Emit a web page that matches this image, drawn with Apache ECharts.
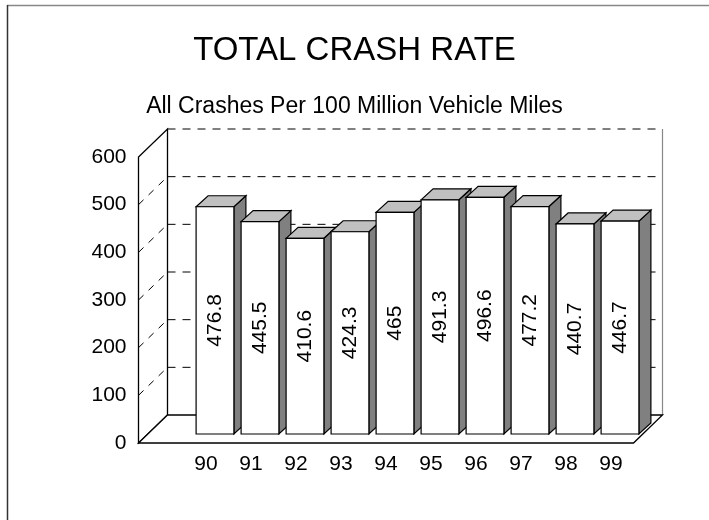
<!DOCTYPE html>
<html>
<head>
<meta charset="utf-8">
<title>Total Crash Rate</title>
<script src="https://cdn.jsdelivr.net/npm/echarts@6/dist/echarts.min.js"></script>
<style>
  html, body { margin: 0; padding: 0; background: #fff; }
  #main { width: 709px; height: 520px; }
</style>
</head>
<body>
<div id="main"></div>
<script>
// data
var years = ['90', '91', '92', '93', '94', '95', '96', '97', '98', '99'];
var crashRate = [476.8, 445.5, 410.6, 424.3, 465, 491.3, 496.6, 477.2, 440.7, 446.7];
var yTicks = [0, 100, 200, 300, 400, 500, 600];

// fake 3d look (pixels)
var WALL_DX = 29, WALL_DY = 28;   // depth of floor and side wall
var BAR_OFF = 9;                  // bar front face is set back from the front plane
var BAR_DX = 12, BAR_DY = 11;     // depth of each bar
var FONT = 'Liberation Sans, Arial, sans-serif';

var chart = echarts.init(document.getElementById('main'), null, { renderer: 'canvas' });

function renderWalls(params, api) {
  var cs = params.coordSys;
  var slot = api.size([1, 0])[0];
  var x0 = cs.x - slot;            // front edge of left wall
  var x1 = cs.x + cs.width;        // front right corner of floor
  var bx0 = x0 + WALL_DX, bx1 = x1 + WALL_DX;
  var yb = api.coord([0, yTicks[0]])[1];
  var yt = api.coord([0, yTicks[yTicks.length - 1]])[1];
  var kids = [];

  // back wall
  kids.push({ type: 'rect', shape: { x: bx0, y: yt - WALL_DY, width: bx1 - bx0, height: yb - yt },
    style: { fill: '#fff', stroke: null } });
  kids.push({ type: 'line', shape: { x1: bx1, y1: yt - WALL_DY, x2: bx1, y2: yb - WALL_DY },
    style: { stroke: '#888', lineWidth: 1.2 } });

  // grid lines on back wall + left wall
  yTicks.slice(1).forEach(function (v) {
    var y = api.coord([0, v])[1];
    kids.push({ type: 'line', shape: { x1: bx0, y1: y - WALL_DY, x2: bx1, y2: y - WALL_DY },
      style: { stroke: '#000', lineWidth: 1, lineDash: [8, 7] } });
    if (v < yTicks[yTicks.length - 1]) {
      kids.push({ type: 'line', shape: { x1: x0, y1: y, x2: bx0, y2: y - WALL_DY },
        style: { stroke: '#000', lineWidth: 1, lineDash: [7, 7] } });
    }
  });

  // left wall outline
  kids.push({ type: 'polygon',
    shape: { points: [[x0, yb], [x0, yt], [bx0, yt - WALL_DY], [bx0, yb - WALL_DY]] },
    style: { fill: null, stroke: '#000', lineWidth: 1.3 } });
  // floor
  kids.push({ type: 'polygon',
    shape: { points: [[x0, yb], [x1, yb], [bx1, yb - WALL_DY], [bx0, yb - WALL_DY]] },
    style: { fill: '#fff', stroke: '#000', lineWidth: 1.3 } });

  return { type: 'group', children: kids };
}

function renderBar(params, api) {
  var idx = api.value(0), val = api.value(1);
  var base = api.coord([idx, 0]);
  var top = api.coord([idx, val]);
  var bw = api.size([1, 0])[0] * 0.84;
  var fx = base[0] - bw / 2 + BAR_OFF;
  var fb = base[1] - BAR_OFF;
  var ft = top[1] - BAR_OFF;
  var line = { stroke: '#000', lineWidth: 1.2 };
  return {
    type: 'group',
    children: [
      { type: 'polygon', // side
        shape: { points: [[fx + bw, fb], [fx + bw, ft], [fx + bw + BAR_DX, ft - BAR_DY], [fx + bw + BAR_DX, fb - BAR_DY]] },
        style: Object.assign({ fill: '#808080' }, line) },
      { type: 'polygon', // top
        shape: { points: [[fx, ft], [fx + bw, ft], [fx + bw + BAR_DX, ft - BAR_DY], [fx + BAR_DX, ft - BAR_DY]] },
        style: Object.assign({ fill: '#c0c0c0' }, line) },
      { type: 'rect', // front
        shape: { x: fx, y: ft, width: bw, height: fb - ft },
        style: Object.assign({ fill: '#fff' }, line) },
      { type: 'text',
        x: fx + bw / 2, y: (ft + fb) / 2, rotation: Math.PI / 2,
        style: { text: String(val), fill: '#000', font: '21px ' + FONT, align: 'center', verticalAlign: 'middle' } }
    ]
  };
}

var option = {
  animation: false,
  backgroundColor: '#fff',
  title: [
    { text: 'TOTAL CRASH RATE', left: 'center', top: 29,
      textStyle: { fontSize: 33, fontWeight: 'normal', fontFamily: FONT, color: '#000' } },
    { text: 'All Crashes Per 100 Million Vehicle Miles', left: 'center', top: 90,
      textStyle: { fontSize: 23, fontWeight: 'normal', fontFamily: FONT, color: '#000' } }
  ],
  graphic: [
    { type: 'line', shape: { x1: 7, y1: 5.5, x2: 709, y2: 5.5 }, style: { stroke: '#888', lineWidth: 1.5 } },
    { type: 'line', shape: { x1: 7.5, y1: 5, x2: 7.5, y2: 520 }, style: { stroke: '#333', lineWidth: 1.5 } }
  ],
  grid: { left: 183.5, right: 75.5, top: 157, bottom: 77 },
  xAxis: {
    type: 'category',
    data: years,
    axisLine: { show: false },
    axisTick: { show: false },
    axisLabel: { margin: 11, fontSize: 21, fontFamily: FONT, color: '#000' }
  },
  yAxis: {
    type: 'value',
    min: 0, max: 600, interval: 100,
    axisLine: { show: false },
    axisTick: { show: false },
    splitLine: { show: false },
    axisLabel: { margin: 57, fontSize: 21, fontFamily: FONT, color: '#000' }
  },
  series: [
    { type: 'custom', renderItem: renderWalls, data: [[0, 0]], silent: true, z: 1 },
    { type: 'custom', renderItem: renderBar, z: 2,
      data: crashRate.map(function (v, i) { return [i, v]; }) }
  ]
};

chart.setOption(option);
</script>
</body>
</html>
